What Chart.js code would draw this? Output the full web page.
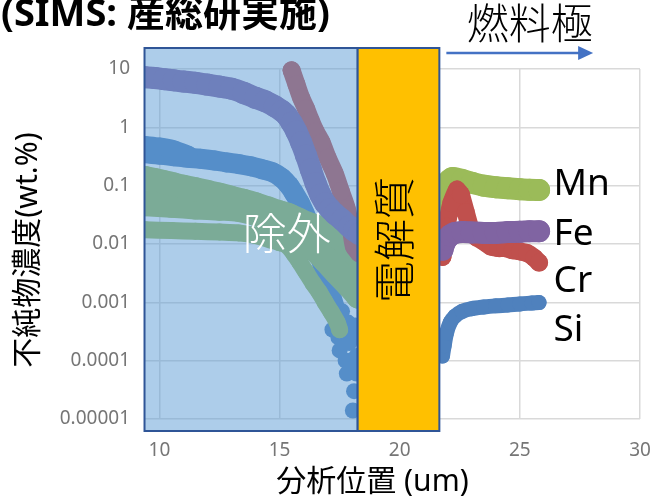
<!DOCTYPE html>
<html lang="ja">
<head>
<meta charset="utf-8">
<title>不純物濃度プロファイル</title>
<script src="https://cdn.jsdelivr.net/npm/chart.js@4.4.1/dist/chart.umd.min.js"></script>
<style>
  html, body { margin: 0; padding: 0; background: #ffffff; }
  canvas { display: block; }
</style>
</head>
<body>
<canvas id="c" width="653" height="500"></canvas>
<script>
// ---- axis ticks ----
const xTicks = [10, 15, 20, 25, 30];
const yTicks = [0.00001, 0.0001, 0.001, 0.01, 0.1, 1, 10];
const yTickLabels = ['0.00001', '0.0001', '0.001', '0.01', '0.1', '1', '10'];

// ---- zones (analysis position, um) ----
const excludedZone = [9.38, 18.25];
const electrolyteZone = [18.25, 21.65];

// ---- Fe (wt.%) ----
const feLeftX = [9.4, 9.8, 10.2, 10.6, 11.0, 11.5, 12.0, 12.5, 13.0, 13.5, 14.0, 14.4, 14.8, 15.1, 15.3, 15.5, 15.7, 15.9, 16.1, 16.3, 16.5, 16.7, 16.9, 17.1, 17.3, 17.6, 17.9, 18.1, 18.3];
const feLeftY = [7.2, 7.0, 6.7, 6.4, 6.1, 5.8, 5.4, 5.0, 4.6, 3.9, 3.2, 2.8, 2.3, 1.9, 1.6, 1.2, 0.85, 0.55, 0.33, 0.19, 0.11, 0.07, 0.05, 0.04, 0.033, 0.026, 0.02, 0.017, 0.015];
const feRightX = [21.78, 21.85, 21.95, 22.1, 22.3, 22.6, 23.0, 23.5, 24.0, 24.5, 25.0, 25.4, 25.8];
const feRightY = [0.008, 0.01, 0.012, 0.014, 0.0155, 0.016, 0.0158, 0.0155, 0.0155, 0.016, 0.0162, 0.0165, 0.0165];

// ---- Cr (wt.%) ----
const crLeftX = [15.5, 15.7, 15.9, 16.1, 16.3, 16.5, 16.75, 17.0, 17.3, 17.55, 17.8, 18.0, 18.1, 18.3];
const crLeftY = [9.5, 5.5, 3.2, 2.1, 1.3, 0.85, 0.55, 0.3, 0.16, 0.08, 0.04, 0.015, 0.009, 0.007];
const crRightX = [21.78, 21.95, 22.15, 22.38, 22.55, 22.75, 22.95, 23.2, 23.5, 23.8, 24.1, 24.4, 24.7, 25.0, 25.3, 25.6, 25.8];
const crRightY = [0.006, 0.02, 0.05, 0.085, 0.07, 0.035, 0.018, 0.013, 0.011, 0.009, 0.0085, 0.0085, 0.0078, 0.0075, 0.007, 0.0058, 0.0048];

// ---- Mn (wt.%) ----
const mnUpperX = [9.4, 9.8, 10.2, 10.6, 11.0, 11.5, 12.0, 12.5, 13.0, 13.5, 14.0, 14.5, 15.0, 15.4, 15.8, 16.2, 16.7, 17.2, 17.7, 18.3];
const mnUpperY = [0.135, 0.125, 0.115, 0.105, 0.096, 0.087, 0.078, 0.07, 0.062, 0.055, 0.048, 0.041, 0.035, 0.031, 0.026, 0.022, 0.019, 0.016, 0.014, 0.012];
const mnMiddleX = [9.4, 10.5, 11.5, 12.5, 13.3, 14.0, 14.7, 15.4, 15.9, 16.4, 16.9, 17.4, 17.9, 18.3];
const mnMiddleY = [0.05, 0.047, 0.044, 0.042, 0.04, 0.034, 0.026, 0.019, 0.014, 0.009, 0.0055, 0.0033, 0.002, 0.0013];
const mnInnerX = [16.6, 17.1, 17.6, 18.0, 18.3];
const mnInnerY = [0.012, 0.009, 0.006, 0.0045, 0.004];
const mnLowerX = [9.4, 10.5, 11.5, 12.5, 13.3, 14.0, 14.7, 15.0, 15.3, 15.6, 15.85, 16.1, 16.4, 16.65, 16.9, 17.15, 17.4, 17.5];
const mnLowerY = [0.0175, 0.017, 0.0165, 0.016, 0.0155, 0.014, 0.0115, 0.0105, 0.0095, 0.0068, 0.0048, 0.0033, 0.0021, 0.0015, 0.001, 0.00068, 0.00045, 0.00034];
const mnRightX = [21.78, 21.85, 21.95, 22.2, 22.6, 23.0, 23.5, 24.0, 24.5, 25.0, 25.4, 25.8];
const mnRightY = [0.015, 0.05, 0.11, 0.135, 0.125, 0.112, 0.1, 0.094, 0.09, 0.087, 0.085, 0.084];

// ---- Si (wt.%) ----
const siUpperX = [9.4, 10.0, 10.6, 11.2];
const siUpperY = [0.5, 0.47, 0.42, 0.34];
const siLeftX = [9.4, 10.0, 10.6, 11.2, 11.7, 12.3, 12.8, 13.3, 13.8, 14.3, 14.7, 15.1, 15.4, 15.6, 15.85, 16.05, 16.25, 16.6, 16.9, 17.1, 17.3];
const siLeftY = [0.36, 0.34, 0.32, 0.3, 0.29, 0.27, 0.25, 0.235, 0.215, 0.19, 0.17, 0.135, 0.1, 0.075, 0.05, 0.033, 0.021, 0.008, 0.003, 0.0015, 0.0008];
const siTailX = [17.2, 17.3, 17.35, 17.45, 17.5, 17.55, 17.6, 17.7, 17.75, 17.8, 17.85, 17.9, 17.95, 18.0, 18.05, 18.1, 18.1, 18.15, 18.2, 18.2];
const siTailY = [0.00034, 0.0009, 0.0006, 0.00025, 0.00015, 0.0004, 0.0007, 0.0003, 0.0001, 0.00006, 0.00045, 0.0002, 0.0001, 0.00009, 0.000014, 0.00003, 0.00025, 0.0004, 0.00012, 0.00006];
const siRightX = [21.78, 21.85, 21.95, 22.1, 22.3, 22.6, 23.0, 23.5, 24.0, 24.5, 25.0, 25.5, 25.8];
const siRightY = [0.00012, 0.00018, 0.0003, 0.00045, 0.00058, 0.0007, 0.00078, 0.00083, 0.00087, 0.0009, 0.00094, 0.00097, 0.00099];

const seriesNames = ['Mn', 'Fe', 'Cr', 'Si'];

const colors = { Fe: '#8064a2', Cr: '#c0504d', Mn: '#9bbb59', Si: '#4f81bd' };
const drawOrder = { Fe: 1, Cr: 2, Mn: 3, Si: 4 };

const pts = (xs, ys) => xs.map((x, i) => ({ x: x, y: ys[i] }));

// thick round-capped trace built from dense markers
function band(name, xs, ys, width, joined = true, tension = 0.3) {
  return {
    label: name,
    data: pts(xs, ys),
    showLine: joined,
    borderColor: colors[name],
    backgroundColor: colors[name],
    borderWidth: width,
    borderCapStyle: 'round',
    borderJoinStyle: 'round',
    pointRadius: width / 2,
    pointBorderWidth: 0,
    pointHoverRadius: width / 2,
    tension: tension,
    order: drawOrder[name],
    clip: { left: 0, top: false, right: false, bottom: false }
  };
}

const datasets = [
  band('Fe', feLeftX, feLeftY, 22),
  band('Fe', feRightX, feRightY, 22),
  band('Cr', crLeftX, crLeftY, 18),
  band('Cr', crRightX, crRightY, 18, true, 0.1),
  band('Mn', mnUpperX, mnUpperY, 24),
  band('Mn', mnMiddleX, mnMiddleY, 26),
  band('Mn', mnInnerX, mnInnerY, 22),
  band('Mn', mnLowerX, mnLowerY, 17),
  band('Mn', mnRightX, mnRightY, 22),
  band('Si', siUpperX, siUpperY, 18),
  band('Si', siLeftX, siLeftY, 20),
  band('Si', siTailX, siTailY, 16, false),
  band('Si', siRightX, siRightY, 15)
];

const cjk = "'Noto Sans', 'Noto Sans CJK JP', sans-serif";

const overlayPlugin = {
  id: 'overlays',
  afterDatasetsDraw(chart) {
    const { ctx, chartArea: a } = chart;
    const xs = chart.scales.x, ys = chart.scales.y;
    const top = a.top - 21, bottom = a.bottom + 12;

    // excluded zone: translucent blue over the data
    const ex0 = xs.getPixelForValue(excludedZone[0]);
    const ex1 = xs.getPixelForValue(excludedZone[1]);
    ctx.save();
    ctx.fillStyle = 'rgba(91,155,213,0.5)';
    ctx.fillRect(ex0, top, ex1 - ex0, bottom - top);
    ctx.strokeStyle = '#2f5597';
    ctx.lineWidth = 2;
    ctx.strokeRect(ex0, top, ex1 - ex0, bottom - top);

    // electrolyte layer
    const el0 = xs.getPixelForValue(electrolyteZone[0]);
    const el1 = xs.getPixelForValue(electrolyteZone[1]);
    ctx.fillStyle = '#ffc000';
    ctx.fillRect(el0, top, el1 - el0, bottom - top);
    ctx.strokeRect(el0, top, el1 - el0, bottom - top);

    // zone captions
    ctx.fillStyle = '#ffffff';
    ctx.font = `300 44px ${cjk}`;
    ctx.textAlign = 'center';
    ctx.textBaseline = 'middle';
    ctx.fillText('除外', xs.getPixelForValue(15.3), ys.getPixelForValue(0.013));

    ctx.save();
    ctx.translate((el0 + el1) / 2, (a.top + a.bottom) / 2 - 4);
    ctx.rotate(-Math.PI / 2);
    ctx.fillStyle = '#000000';
    ctx.font = `300 42px ${cjk}`;
    ctx.fillText('電解質', 0, 0);
    ctx.restore();

    // element names beside the right-hand traces
    const labelY = { Mn: 0.069, Fe: 0.0095, Cr: 0.0015, Si: 0.00022 };
    ctx.fillStyle = '#000000';
    ctx.font = `37px 'Noto Sans', sans-serif`;
    ctx.textAlign = 'left';
    ctx.textBaseline = 'alphabetic';
    seriesNames.forEach(n => {
      ctx.fillText(n, xs.getPixelForValue(26.4), ys.getPixelForValue(labelY[n]));
    });

    // direction arrow toward the anode
    const ax0 = el1 + 7, ax1 = xs.getPixelForValue(28.05), ay = top + 5;
    ctx.strokeStyle = '#4472c4';
    ctx.fillStyle = '#4472c4';
    ctx.lineWidth = 2.5;
    ctx.beginPath();
    ctx.moveTo(ax0, ay);
    ctx.lineTo(ax1 - 12, ay);
    ctx.stroke();
    ctx.beginPath();
    ctx.moveTo(ax1, ay);
    ctx.lineTo(ax1 - 15, ay - 7);
    ctx.lineTo(ax1 - 15, ay + 7);
    ctx.closePath();
    ctx.fill();

    ctx.fillStyle = '#000000';
    ctx.font = `300 42px ${cjk}`;
    ctx.textAlign = 'center';
    ctx.textBaseline = 'middle';
    ctx.fillText('燃料極', (ax0 + ax1) / 2 + 10, 27);
    ctx.restore();
  },
  afterDraw(chart) {
    const { ctx, chartArea: a } = chart;
    ctx.save();
    ctx.fillStyle = '#000000';
    ctx.font = `bold 38px ${cjk}`;
    ctx.textAlign = 'left';
    ctx.textBaseline = 'alphabetic';
    ctx.fillText('(SIMS: 産総研実施)', 1, 26);

    ctx.font = `30px ${cjk}`;
    ctx.textAlign = 'center';
    ctx.textBaseline = 'middle';
    ctx.fillText('分析位置 (um)', (a.left + a.right) / 2 - 20, 482);

    ctx.translate(28, 250);
    ctx.rotate(-Math.PI / 2);
    ctx.fillText('不純物濃度(wt.%)', 0, 0);
    ctx.restore();
  }
};

new Chart(document.getElementById('c'), {
  type: 'line',
  data: { datasets: datasets },
  options: {
    responsive: false,
    animation: false,
    events: [],
    layout: { padding: { left: 0, right: 13, top: 69, bottom: 0 } },
    plugins: { legend: { display: false }, tooltip: { enabled: false } },
    scales: {
      x: {
        type: 'linear',
        min: 9.4,
        max: 30,
        afterBuildTicks: s => { s.ticks = xTicks.map(v => ({ value: v })); },
        afterFit: s => { s.height = 81; s.paddingLeft = 0; s.paddingRight = 0; },
        grid: { color: '#d9d9d9', lineWidth: 1.5, drawTicks: false },
        border: { display: false },
        ticks: {
          padding: 20,
          color: '#767676',
          font: { family: "'Noto Sans', sans-serif", size: 19 },
          maxRotation: 0,
          callback: v => String(v)
        }
      },
      y: {
        type: 'logarithmic',
        min: 0.00001,
        max: 10,
        afterBuildTicks: s => { s.ticks = yTicks.map(v => ({ value: v })); },
        afterFit: s => { s.width = 145; s.paddingTop = 0; s.paddingBottom = 0; },
        grid: { color: '#d9d9d9', lineWidth: 1.5, drawTicks: false },
        border: { display: false },
        ticks: {
          padding: 15,
          color: '#767676',
          font: { family: "'Noto Sans', sans-serif", size: 19 },
          callback: v => yTickLabels[yTicks.indexOf(v)]
        }
      }
    }
  },
  plugins: [overlayPlugin]
});
</script>
</body>
</html>
